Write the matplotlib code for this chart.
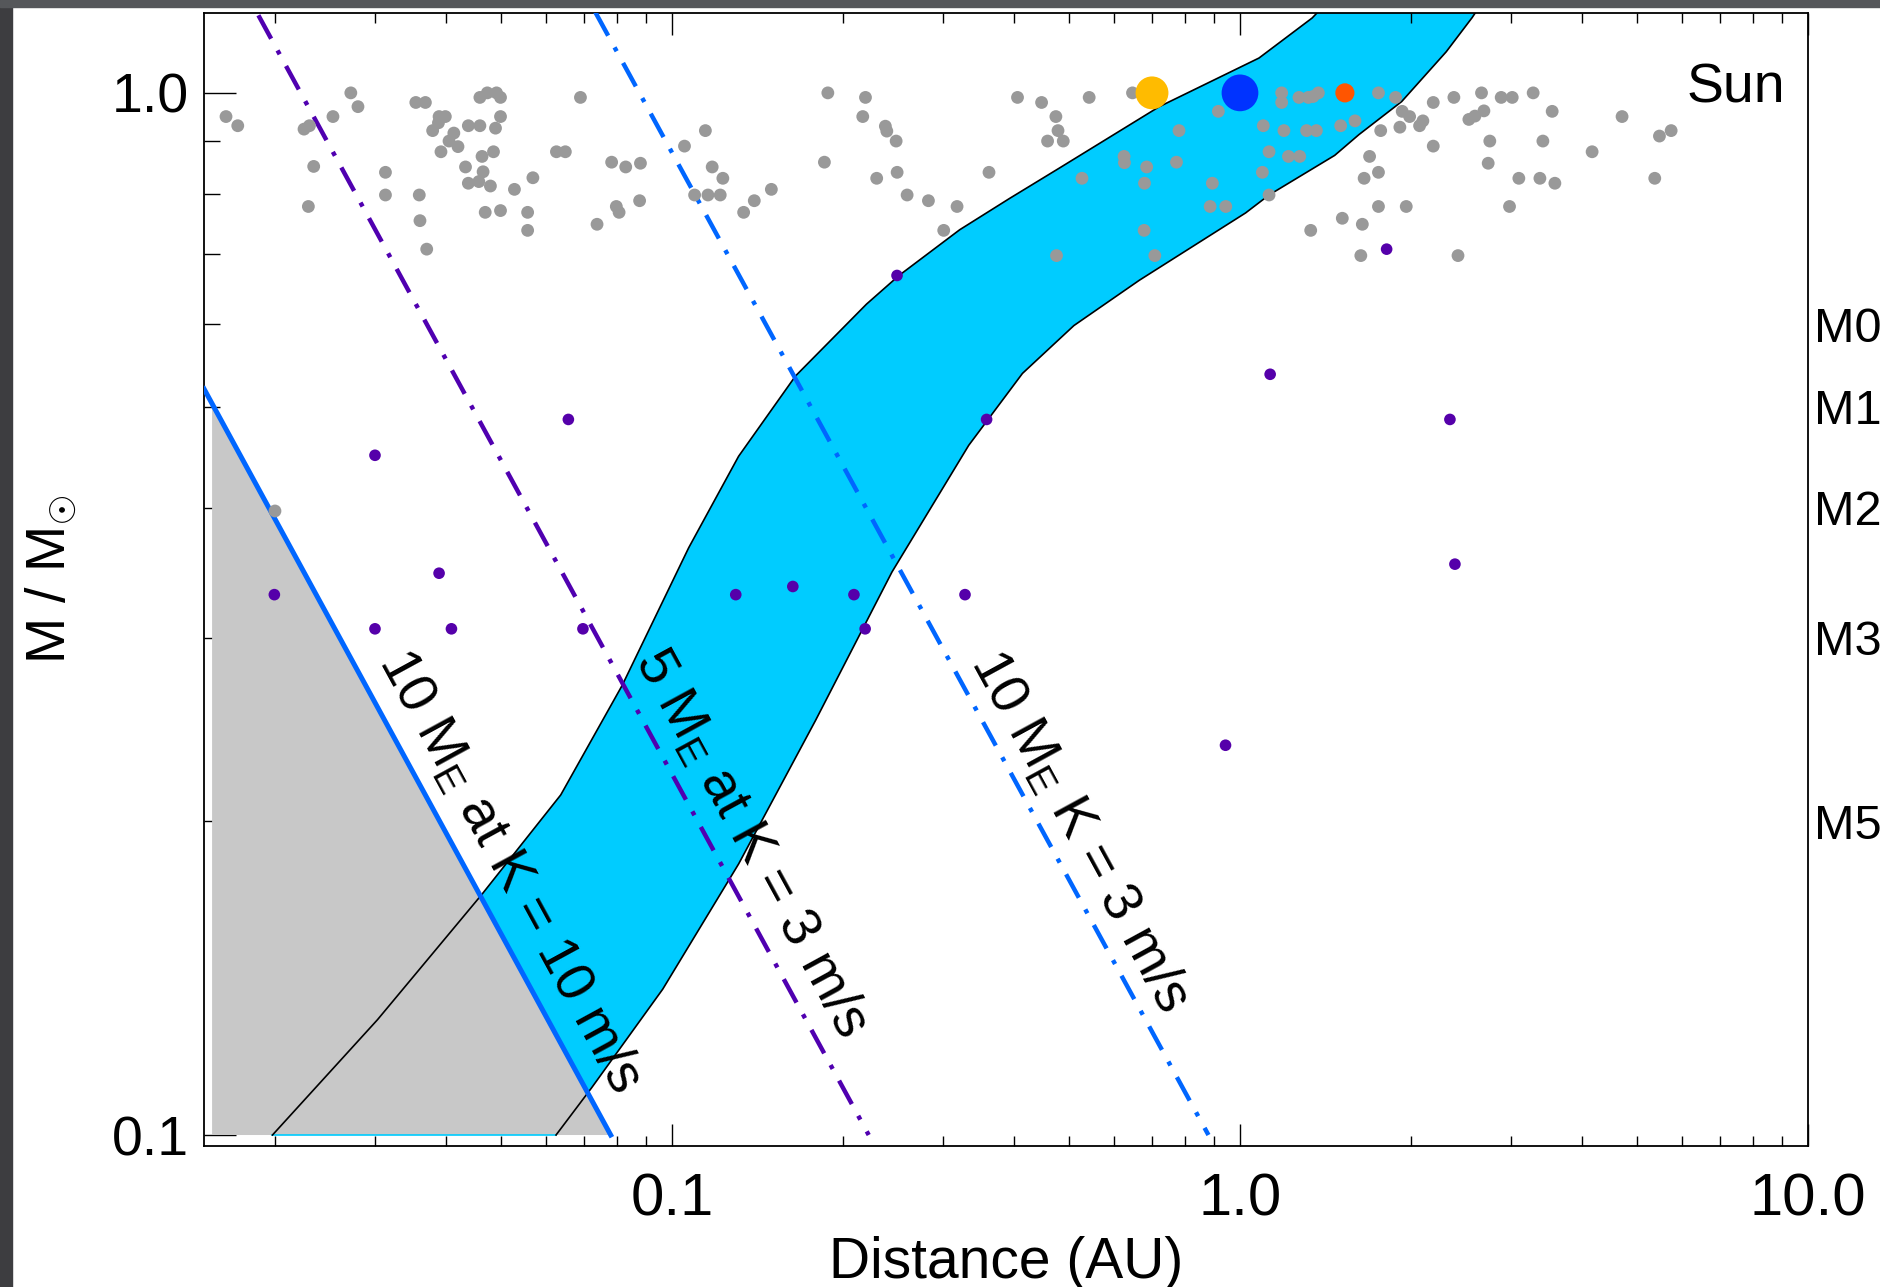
import matplotlib
matplotlib.use('Agg')
import matplotlib.pyplot as plt
from matplotlib.patches import Rectangle
from matplotlib.ticker import FixedLocator, NullLocator, NullFormatter

plt.rcParams['font.family'] = ['Liberation Sans', 'DejaVu Sans']
plt.rcParams['mathtext.fontset'] = 'custom'
plt.rcParams['mathtext.rm'] = 'Liberation Sans'
plt.rcParams['mathtext.it'] = 'Liberation Sans:italic'

# stars with known planets (grey) -- distance (AU), mass (Msun)
gray_x = [0.0164, 0.0172, 0.0225, 0.0230, 0.0234, 0.0229, 0.0253, 0.0272, 0.0280, 0.0313,
          0.0313, 0.0354, 0.0368, 0.0359, 0.0360, 0.0370, 0.0379, 0.0389, 0.0399, 0.0388,
          0.0392, 0.0405, 0.0413, 0.0420, 0.0433, 0.0438, 0.0459, 0.0438, 0.0457, 0.0465,
          0.0479, 0.0463, 0.0485, 0.0489, 0.0499, 0.0459, 0.0473, 0.0491, 0.0499, 0.0469,
          0.0499, 0.0528, 0.0569, 0.0557, 0.0557, 0.0626, 0.0649, 0.0690, 0.0738,
          0.0783, 0.0829, 0.0880, 0.0798, 0.0807, 0.0877, 0.1052, 0.1145, 0.1177, 0.1229,
          0.1096, 0.1157, 0.1216, 0.1337, 0.1396, 0.1496, 0.1881, 0.1855, 0.2191, 0.2167,
          0.2375, 0.2389, 0.2481, 0.2293, 0.2491, 0.2594, 0.2828, 0.3176, 0.3009,
          0.3615, 0.4058, 0.4474, 0.4741, 0.4782, 0.4584, 0.4885, 0.5426, 0.5270, 0.4753,
          0.6468, 0.781, 0.916, 0.625, 0.626, 0.685, 0.679, 0.773, 0.678, 0.708,
          0.894, 0.886, 0.944, 1.099, 1.125, 1.095, 1.125, 1.184, 1.184, 1.195,
          1.217, 1.274, 1.270, 1.319, 1.345, 1.374, 1.310, 1.363, 1.504, 1.594,
          1.514, 1.332,
          1.753, 1.879, 1.930, 1.989, 2.099, 2.071, 1.912, 1.769, 1.691, 1.753,
          1.654, 1.753, 1.962, 1.642, 1.632, 2.420, 2.189, 2.380, 2.662, 2.883,
          3.015, 3.282, 2.189, 2.529, 2.592, 2.688, 2.753, 2.735, 3.097, 3.373,
          3.584, 2.982, 3.414, 3.545, 4.168, 4.706, 5.373, 5.476, 5.742, 0.0200]
gray_y = [0.949, 0.930, 0.923, 0.930, 0.850, 0.778, 0.949, 1.000, 0.970, 0.839,
          0.798, 0.979, 0.979, 0.798, 0.754, 0.708, 0.920, 0.949, 0.949, 0.936,
          0.878, 0.899, 0.915, 0.888, 0.849, 0.930, 0.930, 0.819, 0.822, 0.840,
          0.814, 0.869, 0.878, 0.925, 0.949, 0.990, 1.000, 1.000, 0.990, 0.768,
          0.771, 0.808, 0.829, 0.768, 0.738, 0.878, 0.878, 0.990, 0.748,
          0.858, 0.849, 0.856, 0.778, 0.768, 0.788, 0.889, 0.920, 0.849, 0.828,
          0.798, 0.798, 0.798, 0.768, 0.788, 0.808, 1.000, 0.858, 0.990, 0.949,
          0.929, 0.919, 0.899, 0.828, 0.839, 0.798, 0.788, 0.778, 0.738,
          0.839, 0.990, 0.979, 0.949, 0.920, 0.899, 0.899, 0.990, 0.828, 0.698,
          1.000, 0.920, 0.960, 0.869, 0.857, 0.849, 0.819, 0.858, 0.738, 0.698,
          0.819, 0.778, 0.778, 0.930, 0.878, 0.839, 0.798, 1.000, 0.979, 0.920,
          0.869, 0.869, 0.990, 0.990, 0.992, 1.000, 0.920, 0.920, 0.930, 0.940,
          0.758, 0.738,
          1.000, 0.990, 0.960, 0.949, 0.940, 0.930, 0.927, 0.920, 0.869, 0.839,
          0.828, 0.778, 0.778, 0.748, 0.698, 0.698, 0.979, 0.990, 1.000, 0.990,
          0.990, 1.000, 0.889, 0.943, 0.950, 0.961, 0.899, 0.856, 0.828, 0.828,
          0.819, 0.778, 0.899, 0.960, 0.878, 0.949, 0.828, 0.909, 0.920, 0.397]

# M dwarfs (purple)
mdwarf_x = [0.0657, 0.0300, 0.01995, 0.0389, 0.0300, 0.0409, 0.0697, 0.1295, 0.1632, 0.2091,
            0.2188, 0.328, 0.358, 0.249, 1.812, 1.130, 2.342, 2.390, 0.943]
mdwarf_y = [0.486, 0.449, 0.330, 0.346, 0.306, 0.306, 0.306, 0.330, 0.336, 0.330,
            0.306, 0.330, 0.486, 0.668, 0.708, 0.537, 0.486, 0.353, 0.2366]

planet_x = [0.70, 1.0, 1.53]   # Venus, Earth, Mars
planet_y = [1.0, 1.0, 1.0]
planet_colors = ['#ffbb00', '#0033ff', '#ff5500']
planet_sizes = [560, 700, 190]

# habitable zone edges
hz_inner_x = [0.0198, 0.0303, 0.0462, 0.0637, 0.0817, 0.107, 0.131, 0.165, 0.220, 0.251,
              0.321, 0.393, 0.481, 0.721, 1.08, 1.34, 1.37]
hz_inner_y = [0.100, 0.129, 0.170, 0.212, 0.270, 0.366, 0.448, 0.535, 0.627, 0.668,
              0.739, 0.792, 0.847, 0.970, 1.08, 1.18, 1.195]
hz_outer_x = [0.0625, 0.0722, 0.0963, 0.131, 0.179, 0.244, 0.333, 0.414, 0.510, 0.665,
              1.023, 1.125, 1.468, 1.62, 1.926, 2.307, 2.563, 2.60]
hz_outer_y = [0.100, 0.111, 0.138, 0.182, 0.250, 0.347, 0.459, 0.538, 0.598, 0.661,
              0.767, 0.798, 0.871, 0.912, 0.981, 1.095, 1.181, 1.195]

# detection limits
k10_x = [0.015, 0.078]      # 10 M_E at K = 10 m/s
k10_y = [0.52, 0.10]
k3_5_x = [0.0187, 0.222]    # 5 M_E at K = 3 m/s
k3_5_y = [1.187, 0.10]
k3_10_x = [0.0733, 0.88]    # 10 M_E at K = 3 m/s
k3_10_y = [1.195, 0.10]
shade_x = [0.0155, 0.0155, 0.078]
shade_y = [0.10, 0.503, 0.10]

spt_ticks = [0.6, 0.5, 0.4, 0.3, 0.2]
spt_labels = ['M0', 'M1', 'M2', 'M3', 'M5']

fig = plt.figure(figsize=(18.81, 12.87), dpi=100)
fig.patches.append(Rectangle((0, 0), 12 / 1881, 1, transform=fig.transFigure,
                             color='#3d3d40', zorder=0))
fig.patches.append(Rectangle((0, 1 - 7 / 1287), 1, 7 / 1287, transform=fig.transFigure,
                             color='#55575a', zorder=0))

ax = fig.add_axes([204 / 1881, 1 - 1146 / 1287, 1604 / 1881, 1133 / 1287])
ax.set_xscale('log')
ax.set_yscale('log')
ax.set_xlim(0.015, 10)
ax.set_ylim(0.0976, 1.193)

ax.fill(hz_inner_x + hz_outer_x[::-1], hz_inner_y + hz_outer_y[::-1],
        color='#00ccff', lw=0, zorder=1)
ax.fill(shade_x, shade_y, color='#c8c8c8', lw=0, zorder=2)
ax.plot([hz_inner_x[0], hz_outer_x[0]], [0.1, 0.1], color='#00ccff', lw=1.2, zorder=2.5)
ax.plot(hz_inner_x, hz_inner_y, color='black', lw=1.2, zorder=3)
ax.plot(hz_outer_x, hz_outer_y, color='black', lw=1.2, zorder=3)

ax.plot(k10_x, k10_y, color='#0066ff', lw=3.6, zorder=3.5)
ax.plot(k3_5_x, k3_5_y, color='#5000b0', lw=3.2, ls=(0, (6, 3, 1, 3)), zorder=3.5)
ax.plot(k3_10_x, k3_10_y, color='#0066ff', lw=3.2, ls=(0, (6, 3, 1, 3)), zorder=3.5)

ax.scatter(gray_x, gray_y, s=85, color='#999999', edgecolors='none', zorder=4)
ax.scatter(mdwarf_x, mdwarf_y, s=70, color='#5500aa', edgecolors='none', zorder=4)
ax.scatter(planet_x, planet_y, s=planet_sizes, color=planet_colors, edgecolors='none', zorder=5)

ax.text(0.0518, 0.179, r'10 M$_{\rm E}$ at K = 10 m/s', rotation=-61.4, rotation_mode='anchor',
        ha='center', va='center', fontsize=40, zorder=6)
ax.text(0.1375, 0.1906, r'5 M$_{\rm E}$ at K = 3 m/s', rotation=-61.4, rotation_mode='anchor',
        ha='center', va='center', fontsize=40, zorder=6)
ax.text(0.521, 0.1953, r'10 M$_{\rm E}$ K = 3 m/s', rotation=-61.4, rotation_mode='anchor',
        ha='center', va='center', fontsize=40, zorder=6)
ax.text(0.9855, 0.98, 'Sun', transform=ax.get_yaxis_transform(), ha='right', va='baseline',
        fontsize=40, zorder=6)

ax.set_xticks([0.1, 1, 10], labels=['0.1', '1.0', '10.0'])
ax.set_yticks([0.1, 1], labels=['0.1', '1.0'])
ax.xaxis.set_minor_formatter(NullFormatter())
ax.yaxis.set_minor_formatter(NullFormatter())
ax.tick_params(axis='x', which='major', direction='in', top=True, length=16, width=1.0,
               pad=19, labelsize=43)
ax.tick_params(axis='x', which='minor', direction='in', top=True, length=7.5, width=1.0)
ax.tick_params(axis='y', which='major', direction='in', right=True, length=23, width=1.0,
               pad=11, labelsize=40)
ax.tick_params(axis='y', which='minor', direction='in', right=True, length=11.5, width=1.0)
for sp in ax.spines.values():
    sp.set_linewidth(1.3)

ax.set_xlabel('Distance (AU)', fontsize=41, labelpad=6)
ax.set_ylabel(r'M / M$_{\odot}$', fontsize=40)
ax.yaxis.set_label_coords(-0.078, 0.5)

ax2 = ax.twinx()
ax2.set_yscale('log')
ax2.set_ylim(ax.get_ylim())
ax2.yaxis.set_major_locator(FixedLocator(spt_ticks))
ax2.yaxis.set_minor_locator(NullLocator())
ax2.set_yticklabels(spt_labels)
ax2.tick_params(axis='y', length=0, pad=4, labelsize=35)
for sp in ax2.spines.values():
    sp.set_visible(False)

fig.savefig('out.png', dpi=100, facecolor='white')
